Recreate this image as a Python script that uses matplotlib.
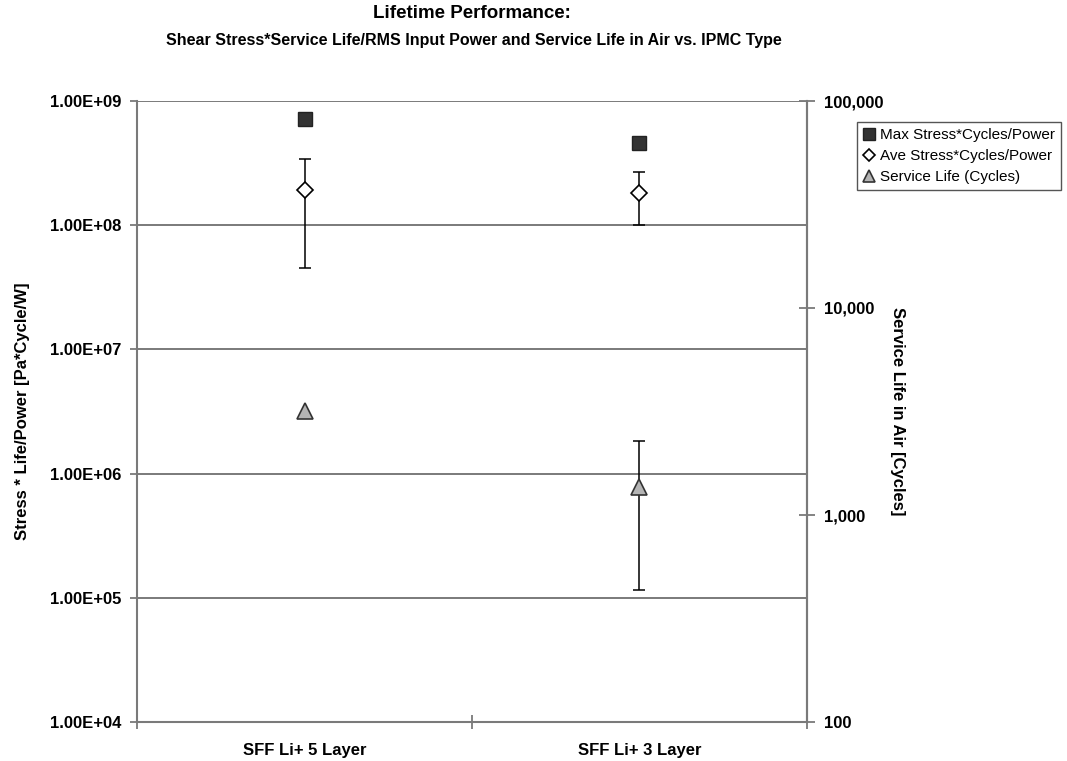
import numpy as np
import matplotlib.pyplot as plt
from matplotlib.ticker import FixedLocator, FuncFormatter, NullLocator

plt.rcParams['font.family'] = ['Liberation Sans', 'DejaVu Sans']
plt.rcParams['font.weight'] = 'bold'
plt.rcParams['axes.labelweight'] = 'bold'

# data
categories = ['SFF Li+ 5 Layer', 'SFF Li+ 3 Layer']
max_stress = [7.2e8, 4.6e8]
ave_stress = [1.91e8, 1.81e8]
ave_upper = [3.4e8, 2.67e8]
ave_lower = [4.5e7, 1.0e8]
service_life = [3180, 1365]
life_upper = [None, 2280]   # no error bar on the first point
life_lower = [None, 434]

left_ticks = [1e4, 1e5, 1e6, 1e7, 1e8, 1e9]
right_ticks = [100, 1000, 10000, 100000]

x = np.arange(len(categories)) + 0.5
grey = '#7a7a7a'

fig = plt.figure(figsize=(10.67, 7.61), dpi=100)
ax = fig.add_axes([137 / 1067, 1 - 722 / 761, 670 / 1067, 621 / 761])
ax.set_yscale('log')
ax.set_ylim(1e4, 1e9)
ax.set_xlim(0, 2)
ax.yaxis.set_major_locator(FixedLocator(left_ticks))
ax.yaxis.set_minor_locator(NullLocator())
ax.yaxis.set_major_formatter(FuncFormatter(lambda v, p: f'{v:.2E}'))
ax.grid(axis='y', color=grey, lw=1.4)
ax.set_axisbelow(True)

ax.spines['top'].set_visible(False)
for s in ['left', 'right', 'bottom']:
    ax.spines[s].set_color(grey)
    ax.spines[s].set_linewidth(1.5)

ax.tick_params(axis='y', direction='out', length=5, width=1.3, color=grey,
               labelsize=12, pad=6)
ax.set_xticks([0, 1, 2])
ax.set_xticklabels(['', '', ''])
ax.set_xticks(x, minor=True)
ax.set_xticklabels(categories, minor=True)
ax.tick_params(axis='x', which='major', direction='inout', length=10,
               width=1.3, color=grey)
ax.tick_params(axis='x', which='minor', length=0, pad=15, labelsize=12)

# stress series on the left axis
h_max, = ax.plot(x, max_stress, 's', color='#333333', mec='#222222', ms=10,
                 label='Max Stress*Cycles/Power')
yerr = [np.array(ave_stress) - np.array(ave_lower),
        np.array(ave_upper) - np.array(ave_stress)]
ax.errorbar(x, ave_stress, yerr=yerr, fmt='none', ecolor='black',
            elinewidth=1.1, capsize=4, capthick=1.1)
h_ave, = ax.plot(x, ave_stress, 'D', mfc='white', mec='black', mew=1.2, ms=8,
                 label='Ave Stress*Cycles/Power')

ax.set_ylabel('Stress * Life/Power [Pa*Cycle/W]', fontsize=12)
ax.yaxis.set_label_coords(-0.160, 0.5)

# service life on the right axis
ax2 = ax.twinx()
ax2.set_yscale('log')
ax2.set_ylim(100, 1e5)
ax2.yaxis.set_major_locator(FixedLocator(right_ticks))
ax2.yaxis.set_minor_locator(NullLocator())
ax2.yaxis.set_major_formatter(FuncFormatter(lambda v, p: f'{v:,.0f}'))
for s in ['top', 'left', 'bottom']:
    ax2.spines[s].set_visible(False)
ax2.spines['right'].set_color(grey)
ax2.spines['right'].set_linewidth(1.5)
ax2.tick_params(axis='y', direction='inout', length=12, width=1.3, color=grey,
                labelsize=12, pad=6)

idx = [i for i, v in enumerate(life_upper) if v is not None]
lerr = [[service_life[i] - life_lower[i] for i in idx],
        [life_upper[i] - service_life[i] for i in idx]]
ax2.errorbar(x[idx], [service_life[i] for i in idx], yerr=lerr, fmt='none',
             ecolor='black', elinewidth=1.1, capsize=4, capthick=1.1)
h_life, = ax2.plot(x, service_life, '^', mfc='#b4b4b4', mec='#333333',
                   mew=1.2, ms=11, label='Service Life (Cycles)')

ax2.set_ylabel('Service Life in Air [Cycles]', fontsize=12, rotation=270,
               va='bottom')
ax2.yaxis.set_label_coords(1.124, 0.5)

fig.text(472 / 1067, 1 - 13 / 761, 'Lifetime Performance:', ha='center',
         va='center', fontsize=13.5)
fig.text(474 / 1067, 1 - 41 / 761,
         'Shear Stress*Service Life/RMS Input Power and Service Life in Air vs. IPMC Type',
         ha='center', va='center', fontsize=11.5)

leg = fig.legend([h_max, h_ave, h_life],
                 [h.get_label() for h in [h_max, h_ave, h_life]],
                 loc='upper left', bbox_to_anchor=(857 / 1067, 1 - 122 / 761),
                 fancybox=False, framealpha=1, edgecolor='#555555',
                 borderpad=0.4, handlelength=0.8, handletextpad=0.3,
                 labelspacing=0.45, markerscale=0.8, borderaxespad=0,
                 prop={'size': 11, 'weight': 'normal'})
leg.get_frame().set_linewidth(1.0)

fig.savefig('out.png', dpi=100)
